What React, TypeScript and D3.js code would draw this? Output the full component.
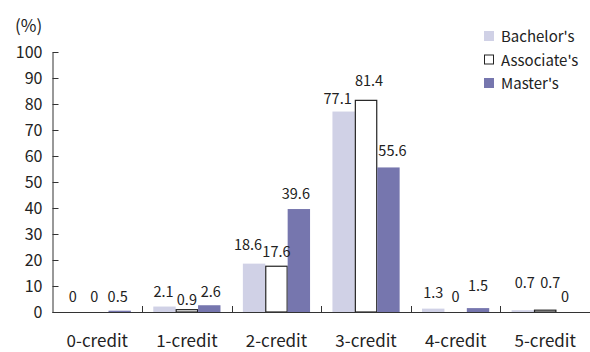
import { useRef, useEffect } from 'react';
import { select, scaleBand, scaleLinear, axisLeft, range } from 'd3';

const categories = ['0-credit', '1-credit', '2-credit', '3-credit', '4-credit', '5-credit'];
const seriesNames = ["Bachelor's", "Associate's", "Master's"];
const bachelor = [0, 2.1, 18.6, 77.1, 1.3, 0.7];
const associate = [0, 0.9, 17.6, 81.4, 0, 0.7];
const master = [0.5, 2.6, 39.6, 55.6, 1.5, 0];
const yTicks = range(0, 101, 10);

// hand nudges for labels that were moved to avoid overlaps: [dx, dy]
const labelNudge: [number, number][][] = [
  [[-2, 0], [-1, 0], [-6, -4], [-6, 2], [0, -1], [2, -12]],
  [[-3, 0], [0, 5], [0, 1], [3, -4], [0, 0], [5, -12]],
  [[-2, 1], [1.5, 2], [-3, 0], [4, -1], [0, -7], [-2.5, 0]],
];

const fills = ['#d0d1e6', '#ffffff', '#7676ae'];
const strokes = ['none', '#222', 'none'];
const FONT = '"Noto Sans CJK KR", "Noto Sans", sans-serif';

const W = 590;
const H = 352;
const left = 52.5;
const top = 52;
const bottom = 312;

const App = () => {
  const ref = useRef<SVGSVGElement>(null);

  useEffect(() => {
    if (!ref.current) return;
    const svg = select(ref.current);
    svg.selectAll('*').remove();

    const values = [bachelor, associate, master];
    const x = scaleBand().domain(categories).range([left, W]);
    const xs = scaleBand().domain(seriesNames).range([0, x.bandwidth()]).paddingOuter(0.5);
    const y = scaleLinear().domain([0, 100]).range([bottom, top]);

    // y axis, ticks point inward
    const ya = axisLeft(y).tickValues(yTicks).tickSizeInner(-6).tickSizeOuter(0).tickPadding(10);
    const gy = svg.append('g').attr('transform', `translate(${left},0)`).call(ya);
    gy.select('.domain').attr('stroke', '#333');
    gy.selectAll('.tick line').attr('stroke', '#333');
    gy.selectAll('.tick text')
      .attr('font-family', FONT)
      .attr('font-size', 16)
      .attr('fill', '#222');

    svg.append('text')
      .attr('x', 15)
      .attr('y', 32)
      .attr('font-family', FONT)
      .attr('font-size', 17)
      .attr('fill', '#222')
      .text('(%)');

    // bars
    seriesNames.forEach((s, si) => {
      svg.append('g')
        .selectAll('rect')
        .data(values[si])
        .join('rect')
        .attr('x', (_, i) => (x(categories[i]) ?? 0) + (xs(s) ?? 0) + (strokes[si] !== 'none' ? 0.5 : 0))
        .attr('y', (d) => y(d))
        .attr('width', xs.bandwidth() - (strokes[si] !== 'none' ? 1 : 0))
        .attr('height', (d) => bottom - y(d))
        .attr('fill', fills[si])
        .attr('stroke', strokes[si])
        .attr('stroke-width', 1.2);
    });

    // x axis
    svg.append('line')
      .attr('x1', left).attr('x2', W)
      .attr('y1', bottom + 0.5).attr('y2', bottom + 0.5)
      .attr('stroke', '#333');
    svg.append('g')
      .selectAll('line')
      .data(categories.slice(1))
      .join('line')
      .attr('x1', (c) => Math.round(x(c) ?? 0) + 0.5)
      .attr('x2', (c) => Math.round(x(c) ?? 0) + 0.5)
      .attr('y1', bottom - 6)
      .attr('y2', bottom)
      .attr('stroke', '#333');
    svg.append('g')
      .selectAll('text')
      .data(categories)
      .join('text')
      .attr('x', (c) => (x(c) ?? 0) + x.bandwidth() / 2)
      .attr('y', 347)
      .attr('text-anchor', 'middle')
      .attr('font-family', FONT)
      .attr('font-size', 17)
      .attr('fill', '#222')
      .text((c) => c);

    // value labels
    seriesNames.forEach((s, si) => {
      svg.append('g')
        .selectAll('text')
        .data(values[si])
        .join('text')
        .attr('x', (_, i) => (x(categories[i]) ?? 0) + (xs(s) ?? 0) + xs.bandwidth() / 2 + labelNudge[si][i][0])
        .attr('y', (d, i) => y(d) - 10 + labelNudge[si][i][1])
        .attr('text-anchor', 'middle')
        .attr('font-family', FONT)
        .attr('font-size', 14.5)
        .attr('fill', '#222')
        .text((d) => String(d));
    });

    // legend
    const lg = svg.append('g').attr('transform', 'translate(484,31)');
    seriesNames.forEach((s, si) => {
      const row = lg.append('g').attr('transform', `translate(0,${si * 23.5})`);
      row.append('rect')
        .attr('x', si === 1 ? 0.5 : 0)
        .attr('y', si === 1 ? 0.5 : 0)
        .attr('width', si === 1 ? 9 : 10)
        .attr('height', si === 1 ? 9 : 10)
        .attr('fill', fills[si])
        .attr('stroke', strokes[si]);
      row.append('text')
        .attr('x', 17)
        .attr('y', 11)
        .attr('font-family', FONT)
        .attr('font-size', 15)
        .attr('fill', '#222')
        .text(s);
    });
  }, []);

  return (
    <svg
      ref={ref}
      width={W}
      height={H}
      style={{ position: 'absolute', left: 0, top: 0, background: '#fff' }}
    />
  );
};

export default App;
